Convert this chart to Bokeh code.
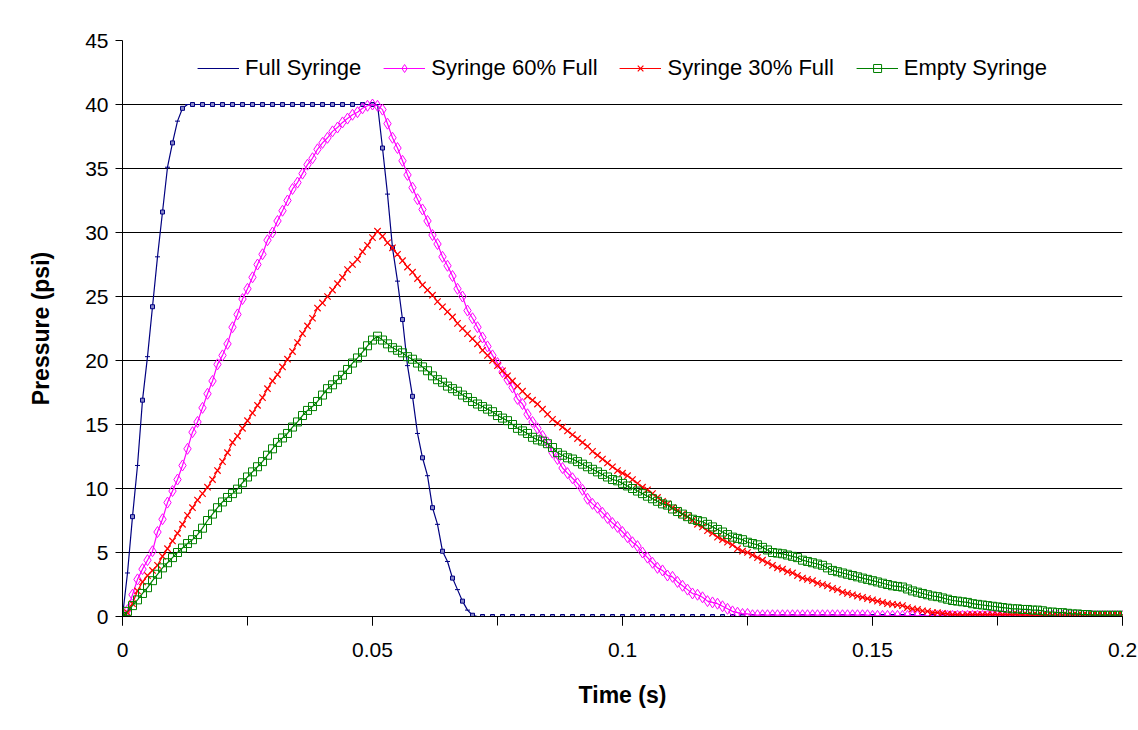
from bokeh.plotting import figure
from bokeh.models import FixedTicker, Range1d, Legend, LegendItem
from bokeh.embed import file_html
from bokeh.resources import INLINE

# Sampling instants (s), one every millisecond from 0 to 0.2 s
time_s = [i / 1000 for i in range(201)]

full_syringe = [
    0.0, 3.4, 7.8, 11.8, 16.9, 20.3, 24.2, 28.1, 31.6, 35.1,
    37.0, 38.7, 39.7, 40.0, 40.0, 40.0, 40.0, 40.0, 40.0, 40.0,
    40.0, 40.0, 40.0, 40.0, 40.0, 40.0, 40.0, 40.0, 40.0, 40.0,
    40.0, 40.0, 40.0, 40.0, 40.0, 40.0, 40.0, 40.0, 40.0, 40.0,
    40.0, 40.0, 40.0, 40.0, 40.0, 40.0, 40.0, 40.0, 40.0, 40.0,
    40.0, 40.0, 36.6, 33.0, 28.8, 26.2, 23.2, 19.6, 17.2, 14.3,
    12.4, 11.0, 8.5, 7.2, 5.1, 4.3, 3.0, 2.1, 1.2, 0.5,
    0.1, 0.0, 0.0, 0.0, 0.0, 0.0, 0.0, 0.0, 0.0, 0.0,
    0.0, 0.0, 0.0, 0.0, 0.0, 0.0, 0.0, 0.0, 0.0, 0.0,
    0.0, 0.0, 0.0, 0.0, 0.0, 0.0, 0.0, 0.0, 0.0, 0.0,
    0.0, 0.0, 0.0, 0.0, 0.0, 0.0, 0.0, 0.0, 0.0, 0.0,
    0.0, 0.0, 0.0, 0.0, 0.0, 0.0, 0.0, 0.0, 0.0, 0.0,
    0.0, 0.0, 0.0, 0.0, 0.0, 0.0, 0.0, 0.0, 0.0, 0.0,
    0.0, 0.0, 0.0, 0.0, 0.0, 0.0, 0.0, 0.0, 0.0, 0.0,
    0.0, 0.0, 0.0, 0.0, 0.0, 0.0, 0.0, 0.0, 0.0, 0.0,
    0.0, 0.0, 0.0, 0.0, 0.0, 0.0, 0.0, 0.0, 0.0, 0.0,
    0.0, 0.0, 0.0, 0.0, 0.0, 0.0, 0.0, 0.0, 0.0, 0.0,
    0.0, 0.0, 0.0, 0.0, 0.0, 0.0, 0.0, 0.0, 0.0, 0.0,
    0.0, 0.0, 0.0, 0.0, 0.0, 0.0, 0.0, 0.0, 0.0, 0.0,
    0.0, 0.0, 0.0, 0.0, 0.0, 0.0, 0.0, 0.0, 0.0, 0.0,
    0.0,
]

syringe_60 = [
    0.0, 0.5, 1.7, 2.9, 3.7, 4.4, 5.1, 6.6, 7.6, 8.9,
    9.8, 10.7, 11.8, 13.1, 14.4, 15.2, 16.3, 17.4, 18.4, 19.7,
    20.4, 21.3, 22.6, 23.6, 24.8, 25.6, 26.5, 27.5, 28.3, 29.4,
    30.0, 30.9, 31.7, 32.5, 33.4, 33.9, 34.6, 35.3, 35.8, 36.5,
    37.0, 37.4, 37.9, 38.2, 38.6, 38.9, 39.2, 39.4, 39.7, 39.9,
    40.0, 39.9, 39.6, 38.5, 37.4, 36.6, 35.6, 34.5, 33.5, 32.6,
    31.8, 30.9, 29.8, 29.1, 28.1, 27.4, 26.6, 25.6, 25.0, 23.9,
    23.3, 22.6, 21.8, 21.1, 20.4, 19.8, 19.1, 18.5, 17.9, 17.0,
    16.6, 15.8, 15.2, 14.7, 14.1, 13.6, 12.8, 12.3, 11.6, 11.2,
    10.8, 10.4, 9.9, 9.2, 8.8, 8.5, 8.1, 7.7, 7.3, 7.0,
    6.6, 6.2, 5.8, 5.5, 5.0, 4.6, 4.2, 3.8, 3.6, 3.2,
    3.1, 2.7, 2.4, 2.1, 1.8, 1.7, 1.5, 1.2, 1.1, 1.0,
    0.8, 0.6, 0.4, 0.3, 0.2, 0.2, 0.1, 0.1, 0.1, 0.1,
    0.1, 0.1, 0.1, 0.1, 0.1, 0.1, 0.1, 0.1, 0.1, 0.1,
    0.1, 0.1, 0.1, 0.1, 0.1, 0.1, 0.1, 0.1, 0.1, 0.1,
    0.05, 0.05, 0.05, 0.05, 0.05, 0.05, 0.05, 0.05, 0.05, 0.05,
    0.05, 0.05, 0.05, 0.05, 0.05, 0.05, 0.05, 0.05, 0.05, 0.05,
    0.05, 0.05, 0.05, 0.05, 0.05, 0.05, 0.05, 0.05, 0.05, 0.05,
    0.05, 0.05, 0.05, 0.05, 0.05, 0.05, 0.05, 0.05, 0.05, 0.05,
    0.05, 0.05, 0.05, 0.05, 0.05, 0.05, 0.05, 0.05, 0.05, 0.05,
    0.05,
]

syringe_30 = [
    0.0, 0.3, 1.0, 2.0, 2.7, 3.2, 3.6, 4.0, 4.7, 5.3,
    5.9, 6.5, 7.2, 7.9, 8.5, 9.1, 9.6, 10.1, 10.7, 11.4,
    12.1, 12.8, 13.6, 14.1, 14.7, 15.3, 15.9, 16.5, 17.1, 17.8,
    18.4, 18.9, 19.5, 20.1, 20.7, 21.4, 22.1, 22.7, 23.3, 24.1,
    24.5, 25.0, 25.5, 26.0, 26.5, 27.1, 27.5, 27.9, 28.5, 29.0,
    29.6, 30.1, 29.7, 29.2, 28.8, 28.3, 27.8, 27.3, 26.9, 26.4,
    25.9, 25.5, 25.1, 24.6, 24.2, 23.8, 23.4, 22.9, 22.5, 22.1,
    21.7, 21.3, 20.8, 20.4, 20.0, 19.6, 19.2, 18.8, 18.4, 18.0,
    17.6, 17.2, 16.9, 16.6, 16.2, 15.8, 15.4, 15.1, 14.8, 14.5,
    14.2, 13.9, 13.6, 13.3, 12.9, 12.6, 12.3, 12.0, 11.7, 11.4,
    11.2, 11.0, 10.7, 10.4, 10.1, 9.9, 9.6, 9.3, 9.0, 8.8,
    8.5, 8.3, 8.0, 7.8, 7.5, 7.2, 7.0, 6.7, 6.5, 6.2,
    6.0, 5.8, 5.6, 5.3, 5.1, 5.0, 4.8, 4.6, 4.4, 4.2,
    4.0, 3.8, 3.7, 3.5, 3.4, 3.2, 3.0, 2.9, 2.8, 2.6,
    2.5, 2.4, 2.2, 2.1, 1.9, 1.8, 1.7, 1.6, 1.5, 1.4,
    1.3, 1.2, 1.1, 1.0, 0.95, 0.9, 0.85, 0.7, 0.6, 0.55,
    0.45, 0.4, 0.3, 0.3, 0.25, 0.2, 0.15, 0.15, 0.1, 0.15,
    0.15, 0.15, 0.15, 0.15, 0.15, 0.15, 0.15, 0.15, 0.15, 0.15,
    0.1, 0.1, 0.1, 0.1, 0.1, 0.1, 0.1, 0.1, 0.1, 0.1,
    0.1, 0.1, 0.1, 0.1, 0.1, 0.1, 0.1, 0.1, 0.1, 0.1,
    0.1,
]

empty_syringe = [
    0.0, 0.4, 0.85, 1.3, 1.8, 2.25, 2.8, 3.3, 3.8, 4.2,
    4.6, 5.0, 5.35, 5.7, 6.0, 6.4, 6.9, 7.5, 8.0, 8.5,
    8.95, 9.3, 9.6, 9.95, 10.45, 10.9, 11.3, 11.7, 12.1, 12.6,
    13.1, 13.6, 13.95, 14.3, 14.8, 15.2, 15.7, 16.1, 16.4, 16.8,
    17.3, 17.8, 18.1, 18.5, 18.85, 19.3, 19.8, 20.2, 20.65, 21.15,
    21.6, 21.9, 21.6, 21.3, 21.0, 20.8, 20.6, 20.3, 20.1, 19.8,
    19.5, 19.2, 18.8, 18.5, 18.3, 18.0, 17.8, 17.6, 17.3, 17.1,
    16.8, 16.6, 16.4, 16.2, 16.0, 15.7, 15.5, 15.3, 15.0, 14.7,
    14.5, 14.3, 14.0, 13.8, 13.7, 13.5, 13.2, 12.8, 12.6, 12.4,
    12.3, 12.1, 11.9, 11.7, 11.5, 11.3, 11.1, 10.9, 10.7, 10.6,
    10.4, 10.2, 10.0, 9.8, 9.6, 9.4, 9.2, 9.0, 8.8, 8.7,
    8.4, 8.2, 8.0, 7.8, 7.6, 7.5, 7.4, 7.2, 7.0, 6.8,
    6.6, 6.4, 6.2, 6.1, 6.0, 5.8, 5.7, 5.6, 5.4, 5.2,
    5.0, 4.95, 4.9, 4.8, 4.7, 4.6, 4.4, 4.3, 4.2, 4.1,
    4.0, 3.8, 3.6, 3.5, 3.4, 3.3, 3.2, 3.1, 3.0, 2.9,
    2.8, 2.7, 2.6, 2.5, 2.4, 2.35, 2.3, 2.15, 2.0, 1.9,
    1.8, 1.7, 1.6, 1.55, 1.45, 1.35, 1.25, 1.2, 1.15, 1.1,
    1.0, 0.95, 0.9, 0.85, 0.8, 0.75, 0.7, 0.65, 0.6, 0.6,
    0.55, 0.55, 0.5, 0.5, 0.45, 0.35, 0.35, 0.3, 0.3, 0.25,
    0.2, 0.2, 0.15, 0.15, 0.1, 0.1, 0.1, 0.1, 0.1, 0.1,
    0.1,
]

series_names = ["Full Syringe", "Syringe 60% Full", "Syringe 30% Full", "Empty Syringe"]
y_ticks = [0, 5, 10, 15, 20, 25, 30, 35, 40, 45]
x_ticks = [0, 0.05, 0.1, 0.15, 0.2]
x_tick_labels = ["0", "0.05", "0.1", "0.15", "0.2"]
x_minor_ticks = [0, 0.025, 0.05, 0.075, 0.1, 0.125, 0.15, 0.175, 0.2]

FONT = "Liberation Sans"

p = figure(width=1138, height=730, x_range=Range1d(0, 0.2), y_range=Range1d(0, 45),
           output_backend="svg", toolbar_location=None,
           min_border_left=122, min_border_right=16, min_border_top=40, min_border_bottom=114)
p.outline_line_color = None
p.background_fill_color = "white"
p.border_fill_color = "white"

# grid
p.xgrid.visible = False
p.ygrid.ticker = FixedTicker(ticks=y_ticks[1:-1])
p.ygrid.grid_line_color = "#000000"
p.ygrid.grid_line_width = 1

# axes
p.xaxis.ticker = FixedTicker(ticks=x_ticks, minor_ticks=x_minor_ticks)
p.xaxis.major_label_overrides = {v: s for v, s in zip(x_ticks, x_tick_labels)}
p.yaxis.ticker = FixedTicker(ticks=y_ticks, minor_ticks=[])
for ax in (p.xaxis[0], p.yaxis[0]):
    ax.axis_line_color = "black"
    ax.axis_line_width = 1
    ax.major_tick_line_color = "black"
    ax.minor_tick_line_color = "black"
    ax.major_tick_in = 0
    ax.minor_tick_in = 0
    ax.major_label_text_font = FONT
    ax.major_label_text_font_size = "21px"
    ax.major_label_text_color = "black"
    ax.axis_label_text_font = FONT
    ax.axis_label_text_font_size = "23px"
    ax.axis_label_text_font_style = "bold"
    ax.axis_label_text_color = "black"
p.xaxis.major_tick_out = 9
p.xaxis.minor_tick_out = 9
p.xaxis.major_label_standoff = 17
p.xaxis.axis_label = "Time (s)"
p.xaxis.axis_label_standoff = 22
p.yaxis.major_tick_out = 7
p.yaxis.major_label_standoff = 7
p.yaxis.axis_label = "Pressure (psi)"
p.yaxis.axis_label_standoff = 28

NAVY = "#000080"
MAG = "#FF00FF"
RED = "#FF0000"
GREEN = "#008000"

# Full syringe
l_full = p.line(time_s, full_syringe, line_color=NAVY, line_width=1.2)
m_full = p.scatter(time_s, full_syringe, marker="dash", size=5, line_color=NAVY, line_width=1)
p.scatter(time_s[::2], full_syringe[::2], marker="square", size=4, line_color=NAVY,
          fill_color="#8888c8", line_width=1)

# 60 %
l_60 = p.line(time_s, syringe_60, line_color=MAG, line_width=1.2)
m_60 = p.scatter(time_s, syringe_60, marker="diamond", size=11, line_color=MAG,
                 fill_color=None, line_width=1)

# 30 %
l_30 = p.line(time_s, syringe_30, line_color=RED, line_width=1.2)
m_30 = p.scatter(time_s, syringe_30, marker="x", size=9, line_color=RED, line_width=1.2)

# empty
l_e = p.line(time_s, empty_syringe, line_color=GREEN, line_width=1.2)
m_e = p.scatter(time_s, empty_syringe, marker="square", size=8, line_color=GREEN,
                fill_color=None, line_width=1)

items = [
    LegendItem(label=series_names[0], renderers=[l_full, m_full]),
    LegendItem(label=series_names[1], renderers=[l_60, m_60]),
    LegendItem(label=series_names[2], renderers=[l_30, m_30]),
    LegendItem(label=series_names[3], renderers=[l_e, m_e]),
]
legend = Legend(items=items, orientation="horizontal", location="top_center",
                border_line_color=None, background_fill_alpha=0,
                label_text_font=FONT, label_text_font_size="22px", label_text_color="black",
                glyph_width=42, glyph_height=20, label_standoff=6, spacing=22,
                padding=14, margin=15)
p.add_layout(legend)

open("out.html", "w").write(file_html(p, INLINE))
